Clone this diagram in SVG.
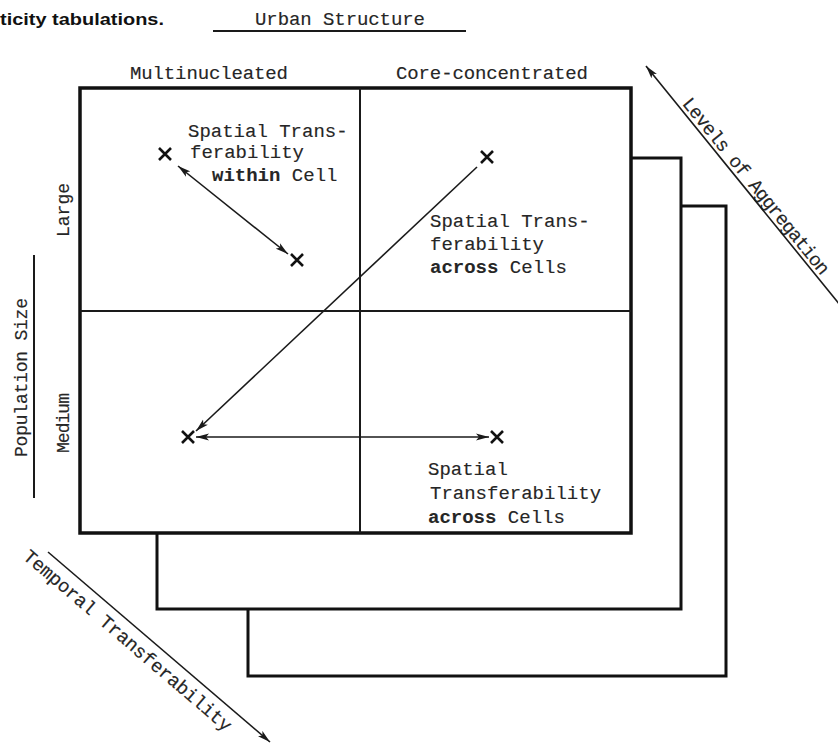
<svg xmlns="http://www.w3.org/2000/svg" width="838" height="744" viewBox="0 0 838 744">
  <style>
    .tw { font-family: "Liberation Mono", "DejaVu Sans Mono", monospace; font-size: 19px; fill: #262626; stroke: #262626; stroke-width: 0.15; }
    .bd { font-weight: bold; stroke-width: 0.1; }
    .cap { font-family: "Liberation Sans", Arial, sans-serif; font-weight: bold; font-size: 17px; fill: #111; }
    .frame { fill: none; stroke: #111; stroke-width: 3.5; stroke-linejoin: miter; }
    .back { fill: none; stroke: #111; stroke-width: 3; stroke-linejoin: miter; }
    .grid { stroke: #1a1a1a; stroke-width: 2; }
    .xm { stroke: #111; stroke-width: 2.6; stroke-linecap: butt; }
    .arr { fill: none; stroke: #1a1a1a; stroke-width: 1.6; }
    .rule { stroke: #1a1a1a; stroke-width: 2; }
  </style>
  <defs>
    <marker id="head" viewBox="0 0 14 8" refX="13" refY="4" markerWidth="14" markerHeight="8" markerUnits="userSpaceOnUse" orient="auto-start-reverse">
      <path d="M0,0.5 L13,4 L0,7.5 L3,4 Z" fill="#1a1a1a"/>
    </marker>
  </defs>
  <rect width="838" height="744" fill="#fff"/>

  <!-- caption fragment -->
  <text class="cap" x="0" y="25" textLength="164" lengthAdjust="spacingAndGlyphs">ticity tabulations.</text>

  <!-- axis headings -->
  <g id="urban-structure">
    <text class="tw" x="255" y="25" textLength="170">Urban Structure</text>
    <line class="rule" x1="213" y1="31" x2="466" y2="31"/>
  </g>
  <g id="population-size">
    <text class="tw" transform="translate(27,457) rotate(-90)" textLength="159" style="font-size:18px">Population Size</text>
    <line class="rule" x1="34" y1="255" x2="34" y2="498"/>
  </g>

  <!-- stacked frames: back layers first -->
  <g id="layer-3">
    <polyline class="back" points="681,206 726,206 726,676 248,676 248,609"/>
  </g>
  <g id="layer-2">
    <polyline class="back" points="631,158 681,158 681,609 157,609 157,533"/>
  </g>
  <g id="matrix">
    <rect class="frame" x="80" y="88" width="551" height="445"/>
    <line class="grid" x1="360" y1="88" x2="360" y2="533"/>
    <line class="grid" x1="80" y1="311" x2="631" y2="311"/>
    <text class="tw" x="130" y="79" textLength="158">Multinucleated</text>
    <text class="tw" x="396" y="79" textLength="192">Core-concentrated</text>
    <text class="tw" transform="translate(69,237) rotate(-90)" textLength="54" style="font-size:18px">Large</text>
    <text class="tw" transform="translate(69,453) rotate(-90)" textLength="60" style="font-size:18px">Medium</text>
  </g>

  <!-- sample points -->
  <g id="point-multi-large">
    <path class="xm" d="M159,148 L171,160 M171,148 L159,160"/>
  </g>
  <g id="point-multi-large-2">
    <path class="xm" d="M291,254 L303,266 M303,254 L291,266"/>
  </g>
  <g id="point-core-large">
    <path class="xm" d="M481,151 L493,163 M493,151 L481,163"/>
  </g>
  <g id="point-multi-medium">
    <path class="xm" d="M182,431 L194,443 M194,431 L182,443"/>
  </g>
  <g id="point-core-medium">
    <path class="xm" d="M491,431 L503,443 M503,431 L491,443"/>
  </g>

  <!-- labels -->
  <g id="label-within-cell">
    <text class="tw" x="188" y="137">Spatial Trans-</text>
    <text class="tw" x="190" y="158">ferability</text>
    <text class="tw" x="212" y="181"><tspan class="bd">within</tspan> Cell</text>
  </g>
  <g id="label-across-diagonal">
    <text class="tw" x="430" y="227">Spatial Trans-</text>
    <text class="tw" x="430" y="250">ferability</text>
    <text class="tw" x="430" y="273"><tspan class="bd">across</tspan> Cells</text>
  </g>
  <g id="label-across-horizontal">
    <text class="tw" x="428" y="475">Spatial</text>
    <text class="tw" x="430" y="499">Transferability</text>
    <text class="tw" x="428" y="523"><tspan class="bd">across</tspan> Cells</text>
  </g>

  <!-- dimension arrows -->
  <g id="levels-of-aggregation">
    <text class="tw" transform="translate(681.4,103.7) rotate(51)" textLength="222">Levels of Aggregation</text>
  </g>
  <g id="temporal-transferability">
    <text class="tw" transform="translate(22,558) rotate(40.6)" textLength="268">Temporal Transferability</text>
  </g>

  <!-- connectors -->
  <g id="connectors">
    <line class="arr" x1="178" y1="166" x2="288" y2="254" marker-start="url(#head)" marker-end="url(#head)"/>
    <line class="arr" x1="477" y1="167" x2="196" y2="431" marker-end="url(#head)"/>
    <line class="arr" x1="196" y1="437" x2="489" y2="437" marker-start="url(#head)" marker-end="url(#head)"/>
    <line class="arr" x1="840" y1="305" x2="646" y2="66" marker-end="url(#head)"/>
    <line class="arr" x1="48" y1="552" x2="270" y2="742" marker-end="url(#head)"/>
  </g>
</svg>
